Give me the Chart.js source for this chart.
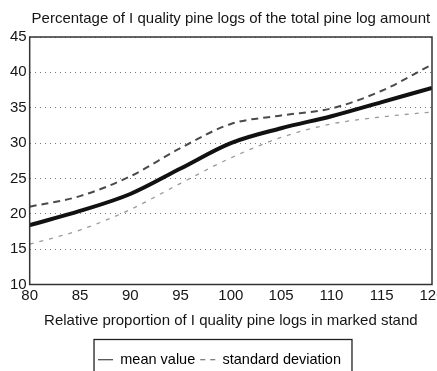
<!DOCTYPE html>
<html>
<head>
<meta charset="utf-8">
<script src="https://cdn.jsdelivr.net/npm/chart.js@4.4.1/dist/chart.umd.min.js"></script>
<style>
  html, body { margin: 0; padding: 0; overflow: hidden; background: #fff; }
  #wrap { width: 448px; height: 377px; }
</style>
</head>
<body>
<div id="wrap"><canvas id="c" width="448" height="377"></canvas></div>
<script>
// Relative proportion of I quality pine logs in the marked stand
const proportion = [80, 85, 90, 95, 100, 105, 110, 115, 120];
// Percentage of I quality pine logs of the total pine log amount
const meanValue      = [18.4, 20.4, 22.8, 26.4, 30.0, 32.1, 33.8, 35.8, 37.8];
const upperDeviation = [21.0, 22.5, 25.3, 29.3, 32.7, 33.9, 34.9, 37.4, 41.1];
const lowerDeviation = [15.7, 17.7, 20.6, 24.3, 27.9, 30.8, 32.7, 33.7, 34.4];
const yTicks = [10, 15, 20, 25, 30, 35, 40, 45];
const xTicks = [80, 85, 90, 95, 100, 105, 110, 115, 120];

const FONT = "'Liberation Sans', Arial, Helvetica, sans-serif";
const INK = '#151515';

const toPoints = (ys) => proportion.map((x, i) => ({ x: x, y: ys[i] }));

// Frame around the plot area and around the legend
const framePlugin = {
  id: 'frames',
  afterDatasetsDraw(chart) {
    const { ctx, chartArea: a } = chart;
    ctx.save();
    ctx.strokeStyle = '#333';
    ctx.lineWidth = 1.5;
    ctx.setLineDash([]);
    ctx.strokeRect(a.left, a.top, a.right - a.left, a.bottom - a.top);
    ctx.restore();
  },
  afterDraw(chart) {
    const boxes = chart.legend && chart.legend.legendHitBoxes;
    if (!boxes || !boxes.length) return;
    const first = boxes[0], last = boxes[boxes.length - 1];
    const ctx = chart.ctx;
    ctx.save();
    ctx.strokeStyle = '#222';
    ctx.lineWidth = 1.3;
    ctx.setLineDash([]);
    const left = first.left - 4;
    const right = last.left + last.width + 11;
    const top = first.top - 13;
    ctx.strokeRect(left, top, right - left, 60);
    ctx.restore();
  }
};

new Chart(document.getElementById('c'), {
  type: 'line',
  data: {
    datasets: [
      {
        label: 'standard deviation (upper)',
        data: toPoints(upperDeviation),
        borderColor: '#4a4a4a',
        borderWidth: 2,
        borderDash: [7, 5],
        pointRadius: 0,
        cubicInterpolationMode: 'monotone',
        fill: false
      },
      {
        label: 'standard deviation (lower)',
        data: toPoints(lowerDeviation),
        borderColor: '#9a9a9a',
        borderWidth: 1.3,
        borderDash: [4, 6],
        pointRadius: 0,
        cubicInterpolationMode: 'monotone',
        fill: false
      },
      {
        label: 'mean value',
        data: toPoints(meanValue),
        borderColor: '#111',
        borderWidth: 4,
        pointRadius: 0,
        cubicInterpolationMode: 'monotone',
        fill: false
      }
    ]
  },
  options: {
    responsive: false,
    animation: false,
    devicePixelRatio: 1,
    layout: { padding: { left: 7, right: 16, top: 0, bottom: 0 } },
    plugins: {
      tooltip: { enabled: false },
      title: {
        display: true,
        fullSize: false,
        text: 'Percentage of I quality pine logs of the total pine log amount',
        color: INK,
        font: { family: FONT, size: 15, weight: 'normal' },
        padding: { top: 10, bottom: 9 }
      },
      legend: {
        display: true,
        position: 'bottom',
        labels: {
          color: INK,
          font: { family: FONT, size: 14.5 },
          usePointStyle: true,
          pointStyleWidth: 15,
          boxHeight: 14.5,
          padding: 5,
          generateLabels() {
            return [
              { text: 'mean value', pointStyle: 'line', strokeStyle: '#222', fillStyle: '#222', lineWidth: 1, lineDash: [], datasetIndex: 2 },
              { text: 'standard deviation', pointStyle: 'line', strokeStyle: '#555', fillStyle: '#555', lineWidth: 1, lineDash: [5, 5], datasetIndex: 0 }
            ];
          }
        }
      }
    },
    scales: {
      x: {
        type: 'linear',
        min: 80,
        max: 120,
        afterBuildTicks(scale) { scale.ticks = xTicks.map(v => ({ value: v })); },
        grid: { display: false, drawTicks: false },
        border: { display: false },
        ticks: { color: INK, font: { family: FONT, size: 15 }, padding: 2, maxRotation: 0, autoSkip: false },
        title: {
          display: true,
          text: 'Relative proportion of I quality pine logs in marked stand',
          color: INK,
          font: { family: FONT, size: 15 },
          padding: { top: 5, bottom: 18 }
        }
      },
      y: {
        type: 'linear',
        min: 10,
        max: 45,
        afterBuildTicks(scale) { scale.ticks = yTicks.map(v => ({ value: v })); },
        grid: {
          color: '#7a7a7a',
          lineWidth: 1,
          drawTicks: false
        },
        border: { display: false, dash: [1, 4] },
        ticks: { color: INK, font: { family: FONT, size: 15 }, padding: 3, autoSkip: false }
      }
    }
  },
  plugins: [framePlugin]
});
</script>
</body>
</html>
